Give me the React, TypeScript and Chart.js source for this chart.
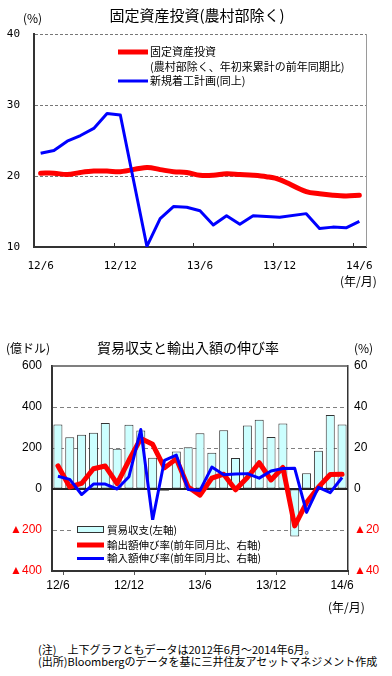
import React, { useEffect, useRef } from 'react';
import { Chart, registerables } from 'chart.js';

Chart.register(...registerables);

// ---------- data ----------
const months = [
  '12/6', '12/7', '12/8', '12/9', '12/10', '12/11', '12/12',
  '13/1', '13/2', '13/3', '13/4', '13/5', '13/6', '13/7', '13/8', '13/9', '13/10', '13/11', '13/12',
  '14/1', '14/2', '14/3', '14/4', '14/5', '14/6',
];
const shownTickLabels = ['12/6', '12/12', '13/6', '13/12', '14/6'];

// top chart (%, YTD y/y)
const fixedAssetInvestment = [
  20.4, 20.4, 20.2, 20.5, 20.7, 20.7, 20.6,
  null, 21.2, 20.9, 20.6, 20.5, 20.1, 20.1, 20.3, 20.2, 20.1, 19.9, 19.5,
  null, 17.8, 17.5, 17.3, 17.2, 17.3,
];
const newProjectsPlanned = [
  23.2, 23.6, 24.9, 25.7, 26.7, 28.8, 28.6,
  null, 10.1, 14.0, 15.7, 15.6, 15.1, 13.1, 14.4, 13.2, 14.4, 14.3, 14.2,
  null, 14.7, 12.6, 12.8, 12.7, 13.6,
];

// bottom chart
const tradeBalance = [
  315, 253, 265, 274, 322, 196, 314,
  285, 152, -9, 183, 204, 272, 177, 286, 151, 310, 338, 254,
  320, -232, 77, 186, 361, 315,
];
const exportGrowth = [
  11.3, 1.0, 2.7, 9.9, 11.2, 2.6, 14.0,
  24.6, 21.8, 10.3, 14.7, 1.0, -3.0, 5.3, 7.2, -0.4, 5.6, 12.8, 4.4,
  10.5, -18.0, -6.6, 0.9, 7.1, 7.2,
];
const importGrowth = [
  6.2, 4.7, -2.7, 2.4, 2.4, 0.0, 6.0,
  29.0, -15.1, 14.0, 16.5, -0.3, -0.7, 10.7, 7.0, 7.3, 7.5, 5.3, 8.8,
  10.0, 10.1, -11.4, 0.8, -1.8, 5.6,
];

const JP = '"Noto Sans CJK JP", sans-serif';
const MONO = '"DejaVu Sans Mono", monospace';
const SANS = '"Liberation Sans", Arial, sans-serif';

const topDecor = {
  id: 'topDecor',
  afterDraw(chart: any) {
    const { ctx, chartArea: a, scales } = chart;
    const x = scales.x;
    ctx.save();
    // right border
    ctx.strokeStyle = '#9a9a9a';
    ctx.lineWidth = 1;
    ctx.beginPath();
    ctx.moveTo(Math.round(a.right) + 0.5, a.top);
    ctx.lineTo(Math.round(a.right) + 0.5, a.bottom);
    ctx.stroke();
    // inner tick marks
    ctx.strokeStyle = '#333';
    ctx.beginPath();
    for (const i of [6, 12, 18, 24]) {
      const px = Math.round((x.getPixelForValue(i - 1) + x.getPixelForValue(i)) / 2) + 0.5;
      ctx.moveTo(px, a.bottom);
      ctx.lineTo(px, a.bottom - 4);
    }
    ctx.stroke();

    // texts
    ctx.fillStyle = '#000';
    ctx.textBaseline = 'middle';
    ctx.font = `15px ${JP}`;
    ctx.textAlign = 'center';
    ctx.fillText('固定資産投資(農村部除く)', 197, 15);
    ctx.textAlign = 'left';
    ctx.font = `12px ${JP}`;
    ctx.fillText('(%)', 23, 18);
    ctx.fillText('(年/月)', 340, 281);

    // legend
    const ds = chart.data.datasets;
    ctx.lineCap = 'butt';
    ctx.strokeStyle = ds[0].borderColor;
    ctx.lineWidth = ds[0].borderWidth;
    ctx.beginPath();
    ctx.moveTo(118, 52);
    ctx.lineTo(148, 52);
    ctx.stroke();
    ctx.strokeStyle = ds[1].borderColor;
    ctx.lineWidth = ds[1].borderWidth;
    ctx.beginPath();
    ctx.moveTo(118, 81);
    ctx.lineTo(148, 81);
    ctx.stroke();
    ctx.font = `11px ${JP}`;
    ctx.fillText('固定資産投資', 150, 52);
    ctx.fillText('(農村部除く、年初来累計の前年同期比)', 150, 67);
    ctx.fillText('新規着工計画(同上)', 150, 81);
    ctx.restore();
  },
};

const bottomDecor = {
  id: 'bottomDecor',
  beforeDatasetsDraw(chart: any) {
    const { ctx, chartArea: a, scales } = chart;
    const y0 = Math.round(scales.y.getPixelForValue(0));
    ctx.save();
    ctx.strokeStyle = '#222';
    ctx.lineWidth = 2;
    ctx.beginPath();
    ctx.moveTo(a.left, y0);
    ctx.lineTo(a.right, y0);
    ctx.stroke();
    ctx.strokeStyle = '#555';
    ctx.lineWidth = 1.5;
    ctx.beginPath();
    ctx.moveTo(a.left, a.top);
    ctx.lineTo(a.right, a.top);
    ctx.stroke();
    ctx.restore();
  },
  afterDraw(chart: any) {
    const { ctx } = chart;
    const ds = chart.data.datasets;
    ctx.save();
    ctx.fillStyle = '#000';
    ctx.textBaseline = 'middle';
    ctx.textAlign = 'center';
    ctx.font = `14px ${JP}`;
    ctx.fillText('貿易収支と輸出入額の伸び率', 188, 18);
    ctx.textAlign = 'left';
    ctx.font = `12px ${JP}`;
    ctx.fillText('(億ドル)', 6, 18);
    ctx.fillText('(%)', 354, 18);
    ctx.fillText('(年/月)', 328, 277);

    // legend
    ctx.fillStyle = '#fff';
    ctx.fillRect(72, 190, 190, 46);
    ctx.fillStyle = ds[0].backgroundColor;
    ctx.fillRect(77, 196, 26, 6);
    ctx.strokeStyle = ds[0].borderColor;
    ctx.lineWidth = 1;
    ctx.strokeRect(77.5, 196.5, 26, 6);
    ctx.strokeStyle = ds[1].borderColor;
    ctx.lineWidth = ds[1].borderWidth;
    ctx.beginPath();
    ctx.moveTo(77, 215);
    ctx.lineTo(104, 215);
    ctx.stroke();
    ctx.strokeStyle = ds[2].borderColor;
    ctx.lineWidth = ds[2].borderWidth;
    ctx.beginPath();
    ctx.moveTo(77, 228.5);
    ctx.lineTo(104, 228.5);
    ctx.stroke();
    ctx.fillStyle = '#000';
    ctx.font = `10.5px ${JP}`;
    ctx.fillText('貿易収支(左軸)', 107, 200);
    ctx.fillText('輸出額伸び率(前年同月比、右軸)', 107, 215);
    ctx.fillText('輸入額伸び率(前年同月比、右軸)', 107, 228.5);
    ctx.restore();
  },
};

const xTickCallback = (_v: any, i: number) =>
  shownTickLabels.includes(months[i]) ? months[i] : '';

export default function App() {
  const topRef = useRef<HTMLCanvasElement>(null);
  const botRef = useRef<HTMLCanvasElement>(null);

  useEffect(() => {
    const c1 = new Chart(topRef.current as HTMLCanvasElement, {
      type: 'line',
      data: {
        labels: months,
        datasets: [
          {
            label: '固定資産投資',
            data: fixedAssetInvestment,
            borderColor: '#ff0000',
            borderWidth: 5,
            borderJoinStyle: 'round',
            borderCapStyle: 'round',
            pointRadius: 0,
            tension: 0.35,
            spanGaps: true,
            order: 2,
          },
          {
            label: '新規着工計画(同上)',
            data: newProjectsPlanned,
            borderColor: '#0000ff',
            borderWidth: 3,
            borderJoinStyle: 'round',
            pointRadius: 0,
            tension: 0,
            spanGaps: true,
            order: 1,
          },
        ],
      },
      options: {
        responsive: false,
        animation: false,
        events: [],
        layout: { padding: { left: 0, right: 26, top: 34, bottom: 0 } },
        plugins: { legend: { display: false }, tooltip: { enabled: false } },
        scales: {
          x: {
            type: 'category',
            offset: true,
            grid: { display: false },
            border: { display: true, color: '#333', width: 2 },
            ticks: {
              autoSkip: false,
              maxRotation: 0,
              minRotation: 0,
              padding: 5,
              color: '#000',
              font: { family: MONO, size: 11 },
              callback: xTickCallback,
            },
            afterFit: (s: any) => {
              s.height = 53;
            },
          },
          y: {
            min: 10,
            max: 40,
            ticks: {
              stepSize: 10,
              padding: 14,
              color: '#000',
              font: { family: MONO, size: 11 },
            },
            grid: {
              drawTicks: false,
              lineWidth: 1,
              color: (c: any) => (c.tick && c.tick.value > 10 ? '#777' : 'transparent'),
            },
            border: { display: true, color: '#333', width: 2, dash: [3, 2] },
            afterFit: (s: any) => {
              s.width = 34;
            },
          },
        },
      },
      plugins: [topDecor],
    } as any);

    const c2 = new Chart(botRef.current as HTMLCanvasElement, {
      type: 'bar',
      data: {
        labels: months,
        datasets: [
          {
            type: 'bar',
            label: '貿易収支(左軸)',
            data: tradeBalance,
            yAxisID: 'y',
            backgroundColor: '#ccffff',
            borderColor: '#333',
            borderWidth: 1,
            borderSkipped: false,
            categoryPercentage: 1,
            barPercentage: 0.76,
            order: 3,
          },
          {
            type: 'line',
            label: '輸出額伸び率(前年同月比、右軸)',
            data: exportGrowth,
            yAxisID: 'y1',
            borderColor: '#ff0000',
            borderWidth: 5,
            borderJoinStyle: 'round',
            borderCapStyle: 'round',
            pointRadius: 0,
            tension: 0,
            order: 2,
          },
          {
            type: 'line',
            label: '輸入額伸び率(前年同月比、右軸)',
            data: importGrowth,
            yAxisID: 'y1',
            borderColor: '#0000ff',
            borderWidth: 3,
            borderJoinStyle: 'round',
            pointRadius: 0,
            tension: 0,
            order: 1,
          },
        ],
      },
      options: {
        responsive: false,
        animation: false,
        events: [],
        layout: { padding: { left: 0, right: 0, top: 36, bottom: 0 } },
        plugins: { legend: { display: false }, tooltip: { enabled: false } },
        scales: {
          x: {
            type: 'category',
            offset: true,
            grid: {
              display: true,
              drawOnChartArea: false,
              offset: true,
              tickLength: 4,
              color: (c: any) =>
                c.index === undefined || c.index % 6 === 1 ? '#555' : 'transparent',
              tickColor: (c: any) =>
                c.index === undefined || c.index % 6 === 1 ? '#555' : 'transparent',
            },
            border: { display: true, color: '#333', width: 2 },
            ticks: {
              autoSkip: false,
              maxRotation: 0,
              minRotation: 0,
              padding: 3,
              color: '#000',
              font: { family: SANS, size: 12 },
              callback: xTickCallback,
            },
            afterFit: (s: any) => {
              s.height = 49;
            },
          },
          y: {
            position: 'left',
            min: -400,
            max: 600,
            ticks: {
              stepSize: 200,
              padding: 10,
              font: { family: SANS, size: 12 },
              color: (c: any) => (c.tick && c.tick.value < 0 ? '#ff0000' : '#000'),
              callback: (v: any) => (v < 0 ? '▲' + Math.abs(v) : String(v)),
            },
            grid: {
              drawTicks: false,
              lineWidth: 1,
              color: (c: any) =>
                c.tick && c.tick.value !== 0 && c.tick.value !== -400 && c.tick.value !== 600
                  ? '#808080'
                  : 'transparent',
            },
            border: { display: true, color: '#333', width: 2, dash: [4, 3] },
            afterFit: (s: any) => {
              s.width = 52;
            },
          },
          y1: {
            position: 'right',
            min: -40,
            max: 60,
            ticks: {
              stepSize: 20,
              padding: 6,
              font: { family: SANS, size: 12 },
              color: (c: any) => (c.tick && c.tick.value < 0 ? '#ff0000' : '#000'),
              callback: (v: any) => (v < 0 ? '▲' + Math.abs(v) : String(v)),
            },
            grid: { drawOnChartArea: false, drawTicks: false },
            border: { display: true, color: '#333', width: 1.5 },
            afterFit: (s: any) => {
              s.width = 44;
            },
          },
        },
      },
      plugins: [bottomDecor],
    } as any);

    return () => {
      c1.destroy();
      c2.destroy();
    };
  }, []);

  return (
    <div
      style={{
        position: 'absolute',
        left: 0,
        top: 0,
        width: 392,
        height: 676,
        background: '#fff',
        overflow: 'hidden',
      }}
    >
      <canvas
        ref={topRef}
        width={392}
        height={300}
        style={{ position: 'absolute', left: 0, top: 0, width: 392, height: 300 }}
      />
      <canvas
        ref={botRef}
        width={392}
        height={290}
        style={{ position: 'absolute', left: 0, top: 330, width: 392, height: 290 }}
      />
      <div
        style={{
          position: 'absolute',
          left: 38,
          top: 643,
          fontFamily: JP,
          fontSize: 11,
          lineHeight: '12px',
          color: '#000',
          whiteSpace: 'nowrap',
        }}
      >
        <div>(注)　上下グラフともデータは2012年6月～2014年6月。</div>
        <div>(出所)Bloombergのデータを基に三井住友アセットマネジメント作成</div>
      </div>
    </div>
  );
}
